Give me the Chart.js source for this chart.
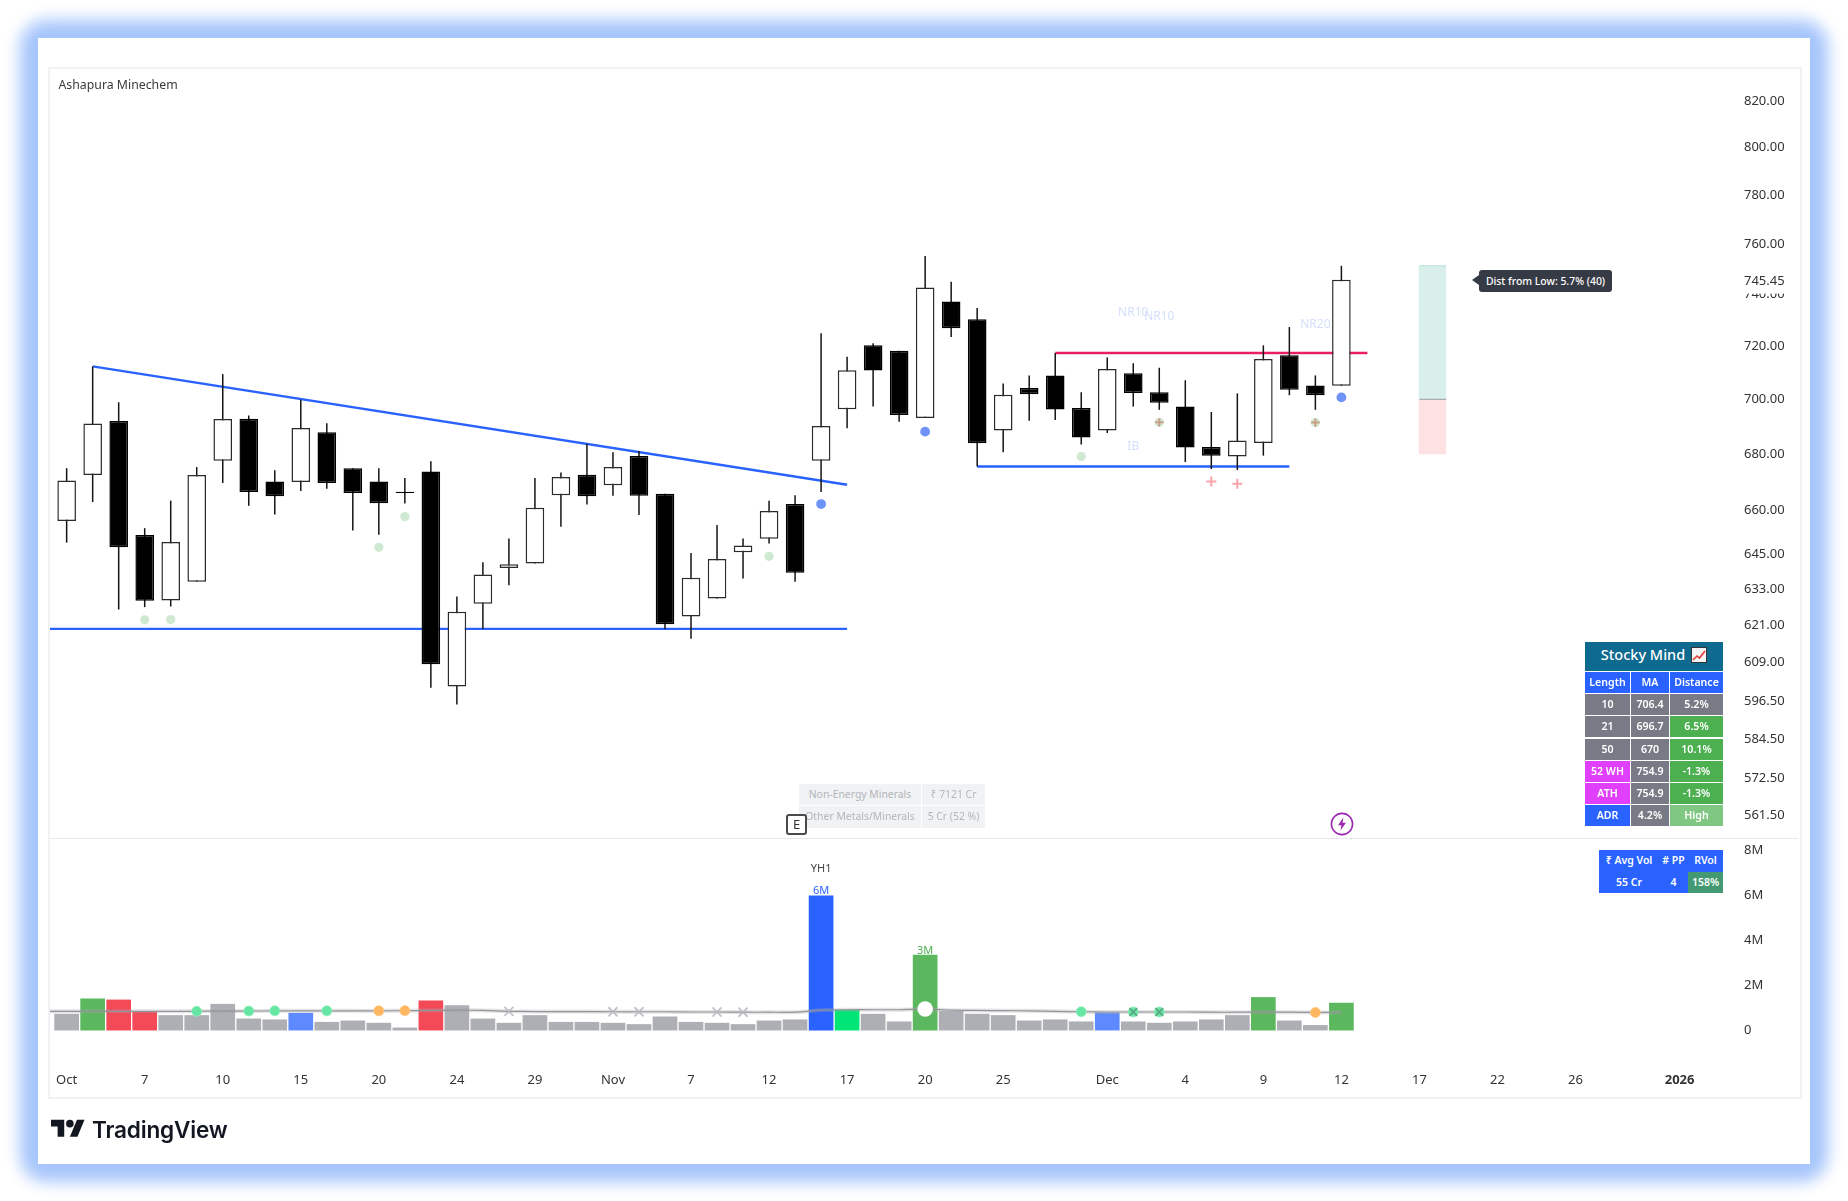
<!DOCTYPE html>
<html><head><meta charset="utf-8"><title>Ashapura Minechem</title>
<script src="https://cdn.jsdelivr.net/npm/chart.js@4"></script>
<style>
html,body{margin:0;padding:0;background:#fff;width:1848px;height:1201px;overflow:hidden;font-family:"Noto Sans",sans-serif}
#root{position:absolute;left:0;top:0;width:1848px;height:1201px;filter:blur(.35px)}
#glow{position:absolute;left:38px;top:38px;width:1772px;height:1126px;border-radius:10px;box-shadow:0 0 16px 18px #a6c5fb}
#panel{position:absolute;left:38px;top:38px;width:1772px;height:1126px;background:#fff}
#pane{position:absolute;left:48px;top:67px;width:1750px;height:1028px;border:2px solid #f1f2f4;box-sizing:content-box}
canvas{position:absolute;left:0;top:0}
.abs{position:absolute}
#title{left:58.5px;top:76px;font-size:12.3px;line-height:18px;color:#3a3a3a}
#tip{left:1479px;top:269.5px;width:133px;height:22px;background:#363a45;border-radius:3px;color:#fff;font-size:10.4px;line-height:22px;text-align:center;font-weight:500;white-space:nowrap}
#tip:before{content:"";position:absolute;left:-7px;top:5.5px;border:5.5px solid transparent;border-left:0;border-right:7px solid #363a45}
#sector{left:799px;top:783.5px;display:grid;grid-template-columns:122px 63px;grid-auto-rows:21.5px;gap:1px;font-size:10.4px;color:#b2b5bb;text-align:center;line-height:21.5px;white-space:nowrap}
#sector div{background:#f1f2f4;overflow:hidden}
#ebox{left:786px;top:813.5px;width:17px;height:17px;border:2px solid #4a4a4a;border-radius:3px;background:#fff;color:#333;font-size:13px;line-height:17px;text-align:center}
#bolt{left:1330px;top:811.5px}
#stocky{left:1585px;top:641.7px;width:138px;color:#fff;text-align:center;white-space:nowrap}
#stocky .head{height:29px;background:#0e6a8e;font-size:14.5px;line-height:25px;font-weight:500;margin-bottom:1px}
#stocky svg{vertical-align:-3px;margin-left:6px}
#mtable{display:grid;grid-template-columns:45px 38px 53px;gap:1.3px 1px;grid-auto-rows:21px;font-size:10.6px;line-height:20.6px;font-weight:600}
.b{background:#2962ff}.g{background:#787b86}.gn{background:#4caf50}.m{background:#e040fb}.lg{background:#81c784}
#vtable{left:1599px;top:850px;width:124px;height:43.4px;background:#2962ff;color:#fff;display:grid;grid-template-columns:60px 29px 35px;grid-auto-rows:21.7px;font-size:10.5px;line-height:21.7px;font-weight:600;text-align:center;white-space:nowrap}
#logo{left:50.8px;top:1116.2px}
#brand{left:92px;top:1114px;font-family:"Inter",sans-serif;font-weight:600;font-size:22.6px;line-height:32px;color:#131722;letter-spacing:-.2px}
</style></head><body><div id="root">
<div id="glow"></div><div id="panel"></div><div id="pane"></div>
<canvas id="c" width="1848" height="1201"></canvas>
<div class="abs" id="title">Ashapura Minechem</div>
<div class="abs" id="tip">Dist from Low: 5.7% (40)</div>
<div class="abs" id="sector"><div>Non-Energy Minerals</div><div>₹ 7121 Cr</div><div>Other Metals/Minerals</div><div>5 Cr (52 %)</div></div>
<div class="abs" id="ebox">E</div>
<svg class="abs" id="bolt" width="24" height="24" viewBox="0 0 24 24"><circle cx="12" cy="12" r="10.6" fill="#fff" stroke="#9c27b0" stroke-width="1.6"/><path d="M13.4 5.5 8 13.2h3.4l-.9 5.3 5.5-7.8h-3.4z" fill="#9c27b0"/></svg>
<div class="abs" id="stocky">
  <div class="head">Stocky Mind<svg width="16" height="16" viewBox="0 0 16 16"><rect x=".5" y=".5" width="15" height="15" fill="#f5f5f5" stroke="#333"/><path d="M2 13 6 9l2.5 2L14 4" fill="none" stroke="#e53935" stroke-width="1.6"/></svg></div>
  <div id="mtable">
    <div class="b">Length</div><div class="b">MA</div><div class="b">Distance</div>
    <div class="g">10</div><div class="g">706.4</div><div class="g">5.2%</div>
    <div class="g">21</div><div class="g">696.7</div><div class="gn">6.5%</div>
    <div class="g">50</div><div class="g">670</div><div class="gn">10.1%</div>
    <div class="m">52 WH</div><div class="g">754.9</div><div class="gn">-1.3%</div>
    <div class="m">ATH</div><div class="g">754.9</div><div class="gn">-1.3%</div>
    <div class="b">ADR</div><div class="g">4.2%</div><div class="lg">High</div>
  </div>
</div>
<div class="abs" id="vtable"><div>₹ Avg Vol</div><div># PP</div><div>RVol</div><div>55 Cr</div><div>4</div><div style="background:#439a72">158%</div></div>
<svg class="abs" id="logo" width="34" height="26.6" viewBox="0 0 36 28"><path d="M14 22H7V11H0V4h14v18zM28 22h-8l7.5-18h8L28 22z" fill="#131722"/><circle cx="20" cy="8" r="4" fill="#131722"/></svg>
<div class="abs" id="brand">TradingView</div>
</div>
<script>
// ---- candles (Oct 1 -> Dec 12)
const opens  = [656,672.2,691.7,651.1,628.9,635.2,677.3,692.5,669.9,669.7,687.6,674.6,669.9,666.2,673.4,600.9,627.8,639.8,641.4,665,672.3,668.5,679,665.5,623.6,629.6,645.2,649.8,661.9,677.3,696,720,717.9,692.8,736.9,730,688.2,703.9,708.6,696.5,688.2,709.4,702.3,697,682.2,678.8,683.7,716.2,704.8,704.7];
const highs  = [674.6,712,698.6,653.5,663.1,675,709.1,693.7,673.9,699.5,690.9,674.6,674.6,671.1,677.1,630.2,641.8,649.9,671.1,673.1,683.4,680.3,680.8,665.5,644.9,654.6,649.9,663.1,665,724.6,715.7,720.8,717.9,754.9,744.7,734.4,705.6,708.6,717.1,702.3,715.4,713.2,711.5,706.8,695,701.9,720,727,708.6,751];
const lows   = [648.5,662.6,625.9,626.7,626.9,635.2,669.3,661.3,658.2,666.5,667.3,652.7,651.2,662.1,600.5,595.2,619.5,634,641.4,654,661.7,664.8,658.1,619.4,616.3,629.6,636.3,648.2,635.2,666.1,689,697,691.4,692.8,723.2,675.2,680.3,691.8,692.1,683.1,687.3,697,695.8,676.8,674.3,673.9,679.1,701.2,695.8,704.7];
const closes = [670.2,690.8,646.9,628.8,648.7,672.2,692.4,666.1,664.6,689.1,669.3,665.8,662.2,665.8,608,625.2,637.6,641.1,660.6,671.5,664.6,675,664.8,621,636.5,642.9,647.5,659.5,638.2,689.9,710.6,710.5,693.9,742.4,726.6,683.6,701.4,701.6,695.9,685.7,711,702,698.4,682,679.1,684.6,714.8,703.2,701.2,745.45];
// ---- volume, in millions
const volumes = [.74,1.42,1.37,.83,.68,.68,1.18,.53,.49,.78,.38,.44,.34,.13,1.33,1.12,.53,.34,.68,.38,.38,.34,.28,.62,.38,.34,.28,.44,.49,5.99,.92,.74,.40,3.36,.86,.74,.68,.44,.49,.40,.80,.40,.34,.40,.49,.68,1.48,.44,.24,1.23];
const volumeKinds = "nGRRnnnnnBnnnnRnnnnnnnnnnnnnnYEnnGnnnnnnBnnnnnGnnG".split("");
const volumeMA = [.85,.85,.85,.85,.85,.85,.86,.86,.87,.87,.87,.87,.87,.88,.89,.90,.89,.85,.84,.84,.84,.83,.83,.83,.82,.82,.81,.81,.81,.90,.92,.92,.92,.95,.90,.89,.88,.87,.85,.83,.82,.82,.82,.82,.81,.81,.81,.81,.80,.80];
// ---- axes
const priceTicks = [820,800,780,760,740,720,700,680,660,645,633,621,609,596.5,584.5,572.5,561.5,745.45];
const volumeTicks = [0,2,4,6,8];
const timeTickIndex = [0,3,6,9,12,15,18,21,24,27,30,33,36,40,43,46,49,52,55,58,62];
const timeTickLabels = ["Oct","7","10","15","20","24","29","Nov","7","12","17","20","25","Dec","4","9","12","17","22","26","2026"];
// ---- drawn levels
const fallingLineIndex = [1,30],  fallingLinePrice = [712,668.7];
const supportLineIndex = [-0.7,30], supportLinePrice = [619.5,619.5];
const resistIndex = [38,50], resistPrice = [717.1,717.1];
const baseLineIndex = [35,47], baseLinePrice = [675.2,675.2];
const riskBoxIndex = [52.5], rewardRange = [699.7,751], riskRange = [679.6,699.7];
// ---- markers on the price pane
const paleDotIndex = [3,4,12,13,27,39,42,48], paleDotPrice = [622.5,622.6,646.9,657.5,643.8,678.8,691.2,691.1];
const blueDotIndex = [29,33,49], blueDotPrice = [661.9,687.8,700.4];
const pinkPlusIndex = [44,45], pinkPlusPrice = [669.9,669.1];
const brownPlusIndex = [42,48], brownPlusPrice = [691.2,691.1];
const noteText = ["NR10","NR10","NR20","IB"], noteIndex = [41,42,48,41], notePrice = [732.8,731.1,728,682.2];
// ---- markers on the volume pane
const greenDots = [5,7,8,10,39,41,42], orangeDots = [12,13,48], greyCrosses = [17,21,22,25,26], dotCrosses = [41,42], whiteDots = [33];
const volumeNotes = [["YH1",29,7.18,"#444"],["6M",29,6.2,"#2962ff"],["3M",33,3.53,"#4caf50"]];

const xs = opens.map((_,i)=>i);
const pts = (ix,vals)=>ix.map((x,k)=>({x,y:vals[k]}));
const kindColor = {n:"#adafb5",G:"#5cb85f",R:"#f44a58",B:"#5e8aff",Y:"#2962ff",E:"#00e676"};
const line = (ix,vals,color,order,width=2.4)=>({type:"line",data:pts(ix,vals),borderColor:color,borderWidth:width,pointRadius:0,tension:0,order,fill:false});
const dots = (data,style,r,bg,bd,bw,order,yAxisID="y")=>({type:"line",showLine:false,data,yAxisID,pointStyle:style,pointRadius:r,pointBackgroundColor:bg,pointBorderColor:bd,pointBorderWidth:bw,order});
const maAt = i=>({x:i,y:volumeMA[i]});
const noPad = s=>{s.paddingLeft=s.paddingRight=s.paddingTop=s.paddingBottom=0;};
const nudgeLabels = s=>{
  if(s._nudged) return; s._nudged=true;
  const orig=s._computeLabelItems;
  s._computeLabelItems=function(a){return orig.call(this,a).map(it=>{
    it.options.translation=[it.options.translation[0],it.options.translation[1]+1];
    if(it.options.backdrop) it.options.backdrop.top+=1;
    return it;});};
};

const overlay = {id:"overlay",afterDatasetsDraw(ch){
  const {ctx,scales:{x,y,yv}}=ch; ctx.save();
  ctx.textAlign="center";ctx.textBaseline="middle";
  ctx.font='12px "Noto Sans"';ctx.fillStyle="#d3dffb";
  noteText.forEach((t,k)=>ctx.fillText(t,x.getPixelForValue(noteIndex[k]),y.getPixelForValue(notePrice[k])));
  ctx.font='11px "Noto Sans"';
  volumeNotes.forEach(([t,i,v,c])=>{ctx.fillStyle=c;ctx.fillText(t,x.getPixelForValue(i),yv.getPixelForValue(v));});
  ctx.strokeStyle="#e6e7ea";ctx.lineWidth=1;ctx.beginPath();ctx.moveTo(x.left,yv.top+.5);ctx.lineTo(yv.right,yv.top+.5);ctx.stroke();
  ctx.restore();
}};

new Chart(document.getElementById("c"),{
  data:{datasets:[
    line(supportLineIndex,supportLinePrice,"#2962ff",9),
    line(fallingLineIndex,fallingLinePrice,"#2962ff",9),
    line(resistIndex,resistPrice,"#e91e63",9),
    line(baseLineIndex,baseLinePrice,"#2962ff",9),
    {type:"bar",grouped:false,data:[{x:riskBoxIndex[0],y:rewardRange}],backgroundColor:"#d9f0ea",barThickness:27.4,order:10,inflateAmount:0},
    {type:"bar",grouped:false,data:[{x:riskBoxIndex[0],y:riskRange}],backgroundColor:"#fde1e3",barThickness:27.4,order:10,inflateAmount:0},
    line([52,53.03],[riskRange[1],riskRange[1]],"#9a9da5",9,1),
    line([52,53.03],[rewardRange[1],rewardRange[1]],"#b2dfd6",9,1),
    {type:"bar",grouped:false,label:"wick",data:xs.map(i=>({x:i,y:[lows[i],highs[i]]})),backgroundColor:"#141414",barThickness:1.5,order:8,inflateAmount:0},
    {type:"bar",grouped:false,label:"body",data:xs.map(i=>({x:i,y:[opens[i],closes[i]]})),
      backgroundColor:xs.map(i=>closes[i]>=opens[i]?"#fff":"#000"),borderColor:xs.map(i=>closes[i]>=opens[i]?"#2b2b2b":"#000"),
      borderWidth:1.5,borderSkipped:false,barThickness:18.6,order:7,inflateAmount:0},
    dots(pts(paleDotIndex,paleDotPrice),"circle",4.6,"#cfe9d2","#cfe9d2",0,5),
    dots(pts(blueDotIndex,blueDotPrice),"circle",4.9,"#6e92f7","#6e92f7",0,5),
    dots(pts(pinkPlusIndex,pinkPlusPrice),"cross",5,"#f8a4ab","#f8a4ab",2,4),
    dots(pts(brownPlusIndex,brownPlusPrice),"cross",4.2,"#c99d88","#c99d88",2,4),
    {type:"bar",grouped:false,yAxisID:"yv",label:"volume",data:xs.map(i=>({x:i,y:volumes[i]})),backgroundColor:volumeKinds.map(k=>kindColor[k]),barThickness:24.7,order:6,inflateAmount:0},
    {type:"line",yAxisID:"yv",data:[{x:-.7,y:.85},...xs.map(maAt)],borderColor:"rgba(165,165,170,.3)",borderWidth:4,pointRadius:0,tension:.2,order:3},
    {type:"line",yAxisID:"yv",data:[{x:-.7,y:.85},...xs.map(maAt)],borderColor:"#8b8d92",borderWidth:1.2,pointRadius:0,tension:.2,order:3},
    dots(greenDots.map(maAt),"circle",5,"#66e6a3","#8ff0bc",.8,2,"yv"),
    dots(orangeDots.map(maAt),"circle",5,"#ffb660","#ffc887",.8,2,"yv"),
    dots(whiteDots.map(maAt),"circle",7.8,"#fff","#fff",0,2,"yv"),
    dots(greyCrosses.map(maAt),"crossRot",6.4,"#c8c9cc","rgba(185,186,190,.85)",1.8,1,"yv"),
    dots(dotCrosses.map(maAt),"crossRot",5.6,"#6f9a88","rgba(90,130,115,.7)",1.6,1,"yv")
  ]},
  options:{
    responsive:false,animation:false,devicePixelRatio:1,
    layout:{padding:{left:50,right:50,top:69,bottom:105.5}},
    plugins:{legend:{display:false},tooltip:{enabled:false}},
    events:[],
    scales:{
      x:{type:"linear",position:"bottom",min:-.64,max:64.13,offset:false,
        grid:{display:false,drawTicks:false},border:{display:false},
        afterBuildTicks:s=>{s.ticks=timeTickIndex.map(value=>({value}));},
        afterFit:s=>{s.height=35.5;noPad(s);},
        ticks:{autoSkip:false,maxRotation:0,padding:12,color:"#333",
          font:c=>({family:"Noto Sans",size:13,weight:c.index===timeTickLabels.length-1?"bold":"normal"}),
          callback:(v,i)=>timeTickLabels[i]}},
      y:{type:"logarithmic",position:"right",stack:"panes",stackWeight:769,min:554.5,max:833.6,
        grid:{display:false,drawTicks:false},border:{display:false},
        afterBuildTicks:s=>{s.ticks=priceTicks.map(value=>({value}));},
        afterFit:s=>{s.width=63;noPad(s);nudgeLabels(s);},
        ticks:{autoSkip:false,padding:9,crossAlign:"near",color:"#333",font:{family:"Noto Sans",size:13},
          showLabelBackdrop:c=>c.tick&&c.tick.value===745.45,backdropColor:"#fff",backdropPadding:{top:4,bottom:4,left:2,right:2},
          callback:v=>Number(v).toFixed(2)}},
      yv:{type:"linear",position:"right",stack:"panes",stackWeight:222,min:-1.31,max:8.54,
        grid:{display:false,drawTicks:false},border:{display:false},
        afterBuildTicks:s=>{s.ticks=volumeTicks.map(value=>({value}));},
        afterFit:s=>{s.width=63;noPad(s);},
        ticks:{autoSkip:false,padding:9,crossAlign:"near",color:"#333",font:{family:"Noto Sans",size:13},
          callback:v=>v===0?"0":v+"M"}}
    }
  },
  plugins:[overlay]
});
</script>
</body></html>
